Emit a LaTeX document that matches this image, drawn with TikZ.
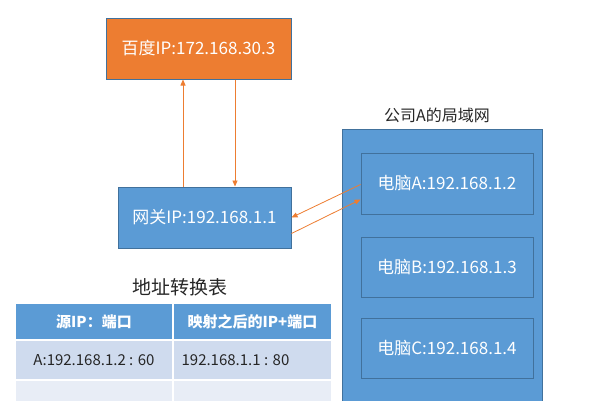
\documentclass[tikz,border=0pt]{standalone}
\usepackage{fontspec}
\setmainfont{Noto Sans CJK SC}
\usetikzlibrary{arrows.meta,calc}
\definecolor{orangebox}{HTML}{ED7D31}
\definecolor{bluebox}{HTML}{5B9BD5}
\definecolor{blueedge}{HTML}{41719C}
\definecolor{rowa}{HTML}{CFDBEE}
\definecolor{rowb}{HTML}{E8EDF6}
\definecolor{txtgray}{HTML}{262626}
\tikzset{
  boxbase/.style={rectangle, inner sep=0pt, draw=blueedge, line width=1pt, text=white, font=\fontsize{17}{19}\selectfont},
  bluebx/.style={boxbase, fill=bluebox},
  orangebx/.style={boxbase, fill=orangebox},
  arr/.style={draw=orangebox, line width=0.8pt, -{Triangle[length=6pt,width=5pt]}},
  cellhead/.style={rectangle, inner sep=0pt, fill=bluebox, draw=white, line width=1.2pt, text=white, font=\fontsize{15}{17}\selectfont\bfseries},
  cella/.style={rectangle, inner sep=0pt, fill=rowa, draw=white, line width=1.2pt, text=txtgray, font=\fontsize{15}{17}\selectfont},
  cellb/.style={rectangle, inner sep=0pt, fill=rowb, draw=white, line width=1.2pt},
  lbl/.style={text=txtgray, inner sep=0pt}
}
\begin{document}
\begin{tikzpicture}[x=1pt,y=-1pt]
\useasboundingbox (0,0) rectangle (600,400);
\clip (0,0) rectangle (600,400);
% Baidu
\node[orangebx, minimum width=185pt, minimum height=61pt] (baidu) at (198.5,48.5) {百度IP:172.168.30.3};
% Gateway
\node[bluebx, minimum width=173pt, minimum height=61pt] (gw) at (204.5,217.5) {网关IP:192.168.1.1};
% LAN
\node[lbl, font=\fontsize{16}{18}\selectfont] (lanlbl) at (437,115) {公司A的局域网};
\node[bluebx, minimum width=200pt, minimum height=290pt] (lan) at (442,274) {};
\node[bluebx, minimum width=172pt, minimum height=61pt] (pca) at (447,183.5) {电脑A:192.168.1.2};
\node[bluebx, minimum width=172pt, minimum height=60pt] (pcb) at (447,267) {电脑B:192.168.1.3};
\node[bluebx, minimum width=172pt, minimum height=60pt] (pcc) at (447,348) {电脑C:192.168.1.4};
% arrows
\draw[arr] ([xshift=-21.5pt]gw.north) -- ([xshift=-15.5pt]baidu.south);
\draw[arr] ([xshift=36.5pt]baidu.south) -- ([xshift=30.5pt]gw.north);
\draw[arr] ([yshift=-1pt]pca.west) -- (gw.east);
\draw[arr] ([yshift=-16pt]gw.east) -- ([yshift=-16pt]pca.west);
% table
\node[lbl, font=\fontsize{19}{21}\selectfont] (ttl) at (180,287) {地址转换表};
\node[cellhead, minimum width=158pt, minimum height=37pt] (h1) at (94,321.5) {源IP：端口};
\node[cellhead, minimum width=159pt, minimum height=37pt] (h2) at (252.5,321.5) {映射之后的IP+端口};
\node[cella, minimum width=158pt, minimum height=40pt] (r1) at (94,360) {A:192.168.1.2 : 60};
\node[cella, minimum width=159pt, minimum height=40pt] (r2) at (252.5,360) {};
\node[cella, fill=none, draw=none, anchor=west] (r2t) at (181,360) {192.168.1.1 : 80};
\node[cellb, minimum width=158pt, minimum height=30pt] (s1) at (94,395) {};
\node[cellb, minimum width=159pt, minimum height=30pt] (s2) at (252.5,395) {};
\end{tikzpicture}
\end{document}
